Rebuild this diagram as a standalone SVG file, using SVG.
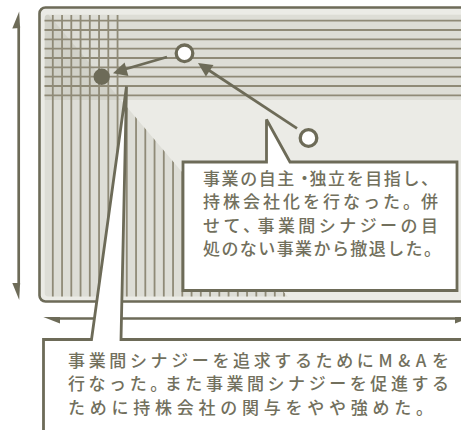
<svg xmlns="http://www.w3.org/2000/svg" width="461" height="430" viewBox="0 0 461 430">
<defs>
<style>
.dk{fill:none;stroke:#6d6b58;stroke-width:2.7}
.hl{stroke:#8f8a77;stroke-width:1.8}
.vl{stroke:#8f8a77;stroke-width:1.8}
.tint{fill:#8a8470;fill-opacity:0.135}
.box{fill:#fff;stroke:#6d6b58;stroke-width:2.8;stroke-linejoin:miter}
.ah{fill:#6d6b58}
.t{font-family:"Noto Sans CJK JP","Noto Sans",sans-serif;font-size:17px;font-weight:500;fill:#72705d}
</style>
<clipPath id="inner"><rect x="44.5" y="14.5" width="440" height="282" rx="4"/></clipPath>
<clipPath id="vclip"><polygon points="44.5,14.5 121,14.5 121,100 288,297 44.5,297"/></clipPath>
</defs>
<rect width="461" height="430" fill="#fff"/>

<g id="frame">
<rect x="39.5" y="7.5" width="450" height="294" rx="6" fill="#ebebe6" stroke="#6d6b58" stroke-width="2.6"/>
<g clip-path="url(#inner)">
<rect x="44.5" y="14.5" width="440" height="85.5" class="tint"/>
<polygon points="44.5,10 288,297 44.5,297" class="tint"/>
<g class="hl">
<line x1="44" y1="20.7" x2="461" y2="20.7"/>
<line x1="44" y1="30" x2="461" y2="30"/>
<line x1="44" y1="39.4" x2="461" y2="39.4"/>
<line x1="44" y1="48.7" x2="461" y2="48.7"/>
<line x1="44" y1="58" x2="461" y2="58"/>
<line x1="44" y1="67.4" x2="461" y2="67.4"/>
<line x1="44" y1="76.7" x2="461" y2="76.7"/>
<line x1="44" y1="86" x2="461" y2="86"/>
<line x1="44" y1="95.3" x2="461" y2="95.3"/>
</g>
<g class="vl" clip-path="url(#vclip)">
<line x1="52.8" y1="15" x2="52.8" y2="297"/>
<line x1="62.05" y1="15" x2="62.05" y2="297"/>
<line x1="71.3" y1="15" x2="71.3" y2="297"/>
<line x1="80.55" y1="15" x2="80.55" y2="297"/>
<line x1="89.8" y1="15" x2="89.8" y2="297"/>
<line x1="99.05" y1="15" x2="99.05" y2="297"/>
<line x1="108.3" y1="15" x2="108.3" y2="297"/>
<line x1="117.55" y1="15" x2="117.55" y2="297"/>
<line x1="126.8" y1="15" x2="126.8" y2="297"/>
<line x1="136.05" y1="15" x2="136.05" y2="297"/>
<line x1="145.3" y1="15" x2="145.3" y2="297"/>
<line x1="154.55" y1="15" x2="154.55" y2="297"/>
<line x1="163.8" y1="15" x2="163.8" y2="297"/>
<line x1="173.05" y1="15" x2="173.05" y2="297"/>
<line x1="182.3" y1="15" x2="182.3" y2="297"/>
<line x1="191.55" y1="15" x2="191.55" y2="297"/>
<line x1="200.8" y1="15" x2="200.8" y2="297"/>
<line x1="210.05" y1="15" x2="210.05" y2="297"/>
<line x1="219.3" y1="15" x2="219.3" y2="297"/>
<line x1="228.55" y1="15" x2="228.55" y2="297"/>
<line x1="237.8" y1="15" x2="237.8" y2="297"/>
<line x1="247.05" y1="15" x2="247.05" y2="297"/>
<line x1="256.3" y1="15" x2="256.3" y2="297"/>
<line x1="265.55" y1="15" x2="265.55" y2="297"/>
<line x1="274.8" y1="15" x2="274.8" y2="297"/>
<line x1="284.05" y1="15" x2="284.05" y2="297"/>
</g>
</g>
</g>

<g id="axes">
<line x1="18.7" y1="26" x2="18.7" y2="285" class="dk" stroke-width="2.8"/>
<polygon points="19.2,11.5 20.1,28 12.3,28.5" class="ah"/>
<polygon points="12.3,283 20.1,283 19.2,300" class="ah"/>
<line x1="58" y1="318.5" x2="461" y2="318.5" class="dk" stroke-width="2.8"/>
<polygon points="43.3,317.1 60,317.1 60,323.5" class="ah"/>
<polygon points="455,317.1 472,317.1 455,323.5" class="ah"/>
</g>

<g id="nodes">
<g id="node-a"><circle cx="184.5" cy="53.3" r="8.3" fill="#fff" stroke="#6d6b58" stroke-width="3.3"/></g>
<g id="node-b"><circle cx="101.7" cy="76.7" r="8.2" fill="#6d6b58"/></g>
<g id="node-c"><circle cx="308.5" cy="138" r="8.3" fill="#fff" stroke="#6d6b58" stroke-width="3.3"/></g>
</g>

<g id="connectors">
<line x1="167" y1="57" x2="124" y2="69.5" class="dk" stroke-width="2.8"/>
<polygon points="113,73.3 124.6,62.5 128.4,75.9" class="ah"/>
<line x1="297" y1="128.3" x2="207" y2="69" class="dk" stroke-width="2.8"/>
<polygon points="198,63 213.5,64.9 205.9,76.5" class="ah"/>
</g>

<g id="callout-1">
<path d="M183,162 H266.5 V119.5 L290,162 H457 V290.5 H183 Z" class="box"/>
<text class="t" x="203" y="185" textLength="235" lengthAdjust="spacing">事業の自主・<tspan dx="-5">独立を目指し、</tspan></text>
<text class="t" x="203" y="208.3" textLength="235" lengthAdjust="spacing">持株会社化を行なった。<tspan dx="-2">併</tspan></text>
<text class="t" x="203" y="231.6" textLength="235" lengthAdjust="spacing">せて、<tspan dx="-6">事業間シナジーの目</tspan></text>
<text class="t" x="203" y="255" textLength="238" lengthAdjust="spacing">処のない事業から撤退した。</text>
</g>

<g id="callout-2">
<path d="M43.5,440 V339.5 H91.5 L126.5,86.5 L121,339.5 H470 V440 Z" class="box"/>
<text class="t" x="68" y="367" textLength="381" lengthAdjust="spacing">事業間シナジーを追求するために<tspan dx="1">M</tspan><tspan dx="2">&amp;</tspan><tspan dx="2">A</tspan><tspan dx="2">を</tspan></text>
<text class="t" x="68" y="390.3" textLength="381" lengthAdjust="spacing">行なった。<tspan dx="-6">また事業間シナジーを促進する</tspan></text>
<text class="t" x="68" y="413.6" textLength="365" lengthAdjust="spacing">ために持株会社の関与をやや強めた。</text>
</g>
</svg>
